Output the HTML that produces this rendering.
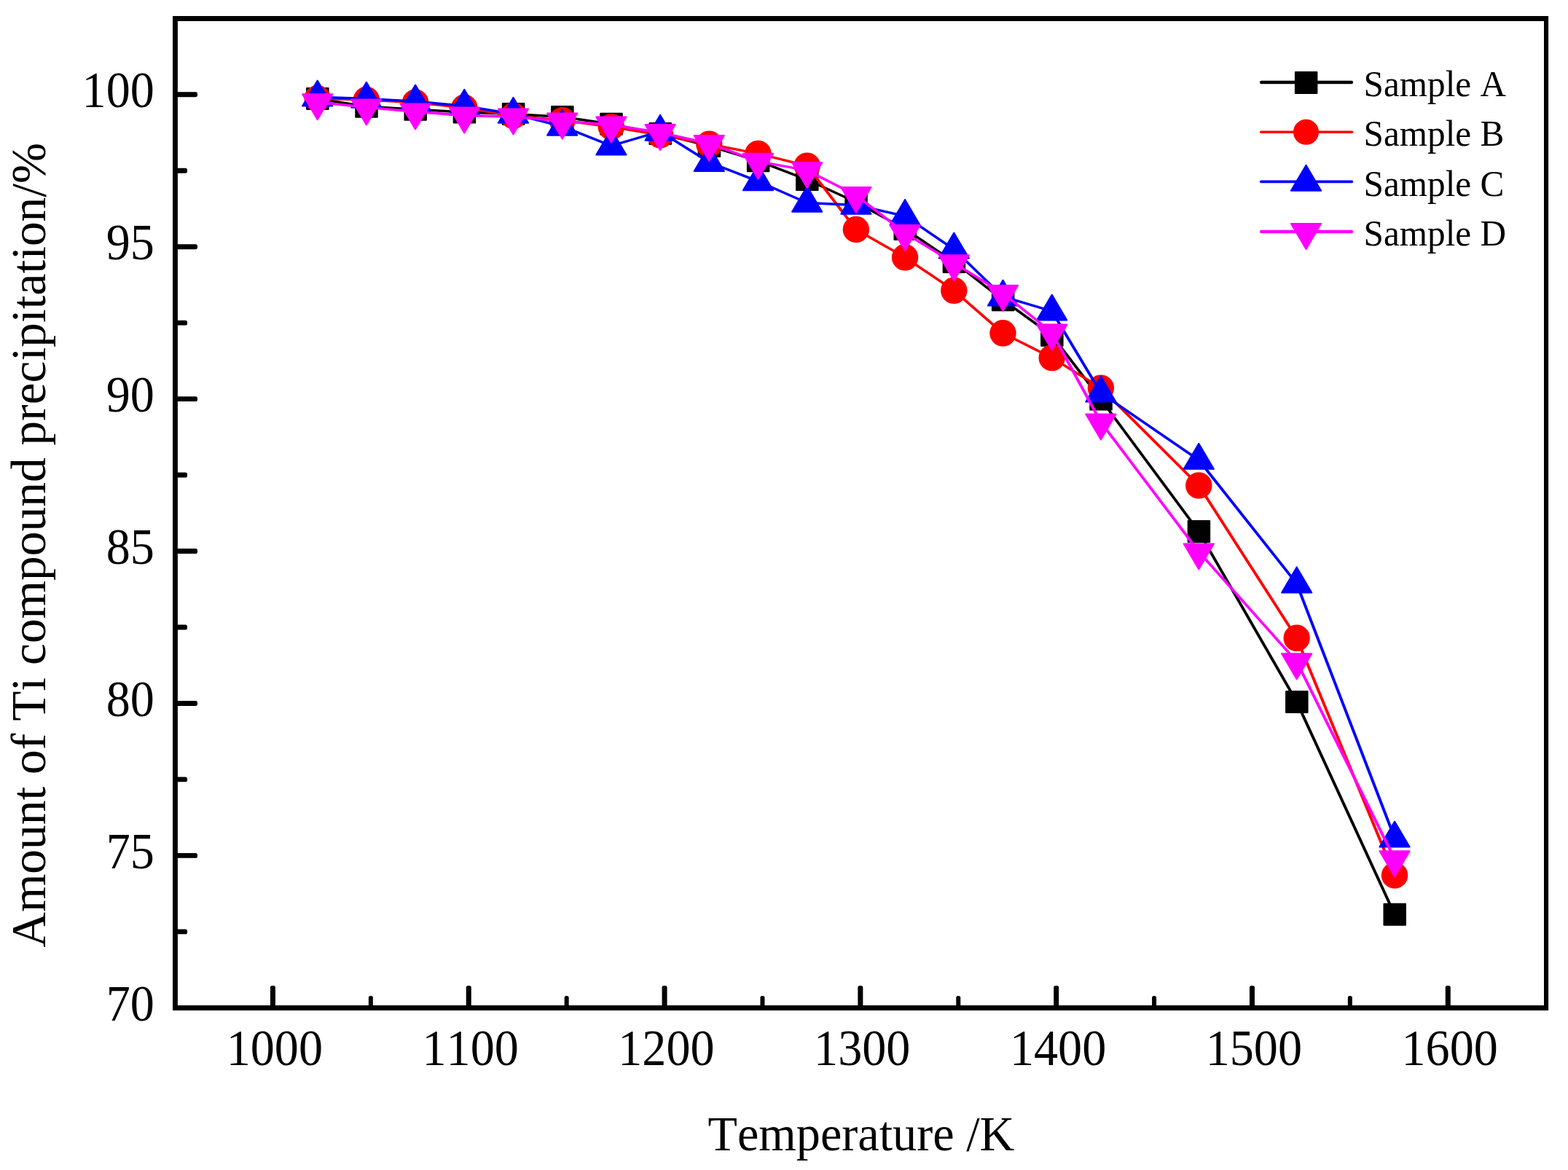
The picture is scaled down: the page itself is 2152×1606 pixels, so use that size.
<!DOCTYPE html>
<html lang="en">
<head>
<meta charset="utf-8">
<title>Amount of Ti compound precipitation vs Temperature</title>
<style>
html,body{margin:0;padding:0;background:#fff;}
body{width:2152px;height:1606px;overflow:hidden;}
svg{display:block;}
text{font-family:"Liberation Serif","Times New Roman",serif;fill:#000;font-kerning:none;font-variant-ligatures:none;}
</style>
</head>
<body>
<svg width="2152" height="1606" viewBox="0 0 2152 1606">
<rect x="0" y="0" width="2152" height="1606" fill="#fff"/>
<g fill="#000000" stroke="#000000" stroke-width="2" stroke-linejoin="round">
<g fill="none" stroke-linecap="round"><line x1="435.67" y1="135.5" x2="502.87" y2="146.2" stroke-width="3.4"/><line x1="502.87" y1="146.2" x2="570.07" y2="150.3" stroke-width="3.4"/><line x1="570.07" y1="150.3" x2="637.27" y2="154" stroke-width="3.4"/><line x1="637.27" y1="154" x2="704.47" y2="156.5" stroke-width="3.4"/><line x1="704.47" y1="156.5" x2="771.67" y2="160.5" stroke-width="3.4"/><line x1="771.67" y1="160.5" x2="838.87" y2="170.3" stroke-width="3.4"/><line x1="838.87" y1="170.3" x2="906.07" y2="183.6" stroke-width="3.4"/><line x1="906.07" y1="183.6" x2="973.27" y2="200.4" stroke-width="3.4"/><line x1="973.27" y1="200.4" x2="1040.47" y2="220.8" stroke-width="3.4"/><line x1="1040.47" y1="220.8" x2="1107.67" y2="246.6" stroke-width="3.4"/><line x1="1107.67" y1="246.6" x2="1174.87" y2="277.5" stroke-width="3.4"/><line x1="1174.87" y1="277.5" x2="1242.07" y2="314.4" stroke-width="3.45"/><line x1="1242.07" y1="314.4" x2="1309.27" y2="359.4" stroke-width="3.51"/><line x1="1309.27" y1="359.4" x2="1376.47" y2="411.8" stroke-width="3.56"/><line x1="1376.47" y1="411.8" x2="1443.67" y2="460.3" stroke-width="3.54"/><line x1="1443.67" y1="460.3" x2="1510.87" y2="548.1" stroke-width="3.74"/><line x1="1510.87" y1="548.1" x2="1645.27" y2="729.6" stroke-width="3.76"/><line x1="1645.27" y1="729.6" x2="1779.67" y2="963.4" stroke-width="3.84"/><line x1="1779.67" y1="963.4" x2="1914.07" y2="1255.3" stroke-width="3.9"/></g>
<rect x="421.07" y="121" width="29.5" height="29"/><rect x="488.27" y="131.7" width="29.5" height="29"/><rect x="555.47" y="135.8" width="29.5" height="29"/><rect x="622.67" y="139.5" width="29.5" height="29"/><rect x="689.87" y="142" width="29.5" height="29"/><rect x="757.07" y="146" width="29.5" height="29"/><rect x="824.27" y="155.8" width="29.5" height="29"/><rect x="891.47" y="169.1" width="29.5" height="29"/><rect x="958.67" y="185.9" width="29.5" height="29"/><rect x="1025.87" y="206.3" width="29.5" height="29"/><rect x="1093.07" y="232.1" width="29.5" height="29"/><rect x="1160.27" y="263" width="29.5" height="29"/><rect x="1227.47" y="299.9" width="29.5" height="29"/><rect x="1294.67" y="344.9" width="29.5" height="29"/><rect x="1361.87" y="397.3" width="29.5" height="29"/><rect x="1429.07" y="445.8" width="29.5" height="29"/><rect x="1496.27" y="533.6" width="29.5" height="29"/><rect x="1630.67" y="715.1" width="29.5" height="29"/><rect x="1765.07" y="948.9" width="29.5" height="29"/><rect x="1899.47" y="1240.8" width="29.5" height="29"/>
</g>
<g fill="#ff0000" stroke="#ff0000" stroke-width="2" stroke-linejoin="round">
<g fill="none" stroke-linecap="round"><line x1="435.67" y1="135.2" x2="502.87" y2="137" stroke-width="3.4"/><line x1="502.87" y1="137" x2="570.07" y2="140.7" stroke-width="3.4"/><line x1="570.07" y1="140.7" x2="637.27" y2="147.8" stroke-width="3.4"/><line x1="637.27" y1="147.8" x2="704.47" y2="159" stroke-width="3.4"/><line x1="704.47" y1="159" x2="771.67" y2="165.3" stroke-width="3.4"/><line x1="771.67" y1="165.3" x2="838.87" y2="174.1" stroke-width="3.4"/><line x1="838.87" y1="174.1" x2="906.07" y2="185.4" stroke-width="3.4"/><line x1="906.07" y1="185.4" x2="973.27" y2="197.8" stroke-width="3.4"/><line x1="973.27" y1="197.8" x2="1040.47" y2="210.9" stroke-width="3.4"/><line x1="1040.47" y1="210.9" x2="1107.67" y2="227.6" stroke-width="3.4"/><line x1="1107.67" y1="227.6" x2="1174.87" y2="315" stroke-width="3.74"/><line x1="1174.87" y1="315" x2="1242.07" y2="353.3" stroke-width="3.46"/><line x1="1242.07" y1="353.3" x2="1309.27" y2="398.8" stroke-width="3.51"/><line x1="1309.27" y1="398.8" x2="1376.47" y2="457.3" stroke-width="3.6"/><line x1="1376.47" y1="457.3" x2="1443.67" y2="491.1" stroke-width="3.42"/><line x1="1443.67" y1="491.1" x2="1510.87" y2="532.6" stroke-width="3.48"/><line x1="1510.87" y1="532.6" x2="1645.27" y2="666.4" stroke-width="3.65"/><line x1="1645.27" y1="666.4" x2="1779.67" y2="875.8" stroke-width="3.8"/><line x1="1779.67" y1="875.8" x2="1914.07" y2="1201.5" stroke-width="3.9"/></g>
<circle cx="435.67" cy="135.2" r="17.2"/><circle cx="502.87" cy="137" r="17.2"/><circle cx="570.07" cy="140.7" r="17.2"/><circle cx="637.27" cy="147.8" r="17.2"/><circle cx="704.47" cy="159" r="17.2"/><circle cx="771.67" cy="165.3" r="17.2"/><circle cx="838.87" cy="174.1" r="17.2"/><circle cx="906.07" cy="185.4" r="17.2"/><circle cx="973.27" cy="197.8" r="17.2"/><circle cx="1040.47" cy="210.9" r="17.2"/><circle cx="1107.67" cy="227.6" r="17.2"/><circle cx="1174.87" cy="315" r="17.2"/><circle cx="1242.07" cy="353.3" r="17.2"/><circle cx="1309.27" cy="398.8" r="17.2"/><circle cx="1376.47" cy="457.3" r="17.2"/><circle cx="1443.67" cy="491.1" r="17.2"/><circle cx="1510.87" cy="532.6" r="17.2"/><circle cx="1645.27" cy="666.4" r="17.2"/><circle cx="1779.67" cy="875.8" r="17.2"/><circle cx="1914.07" cy="1201.5" r="17.2"/>
</g>
<g fill="#0000ff" stroke="#0000ff" stroke-width="2" stroke-linejoin="round">
<g fill="none" stroke-linecap="round"><line x1="435.67" y1="133.2" x2="502.87" y2="135.5" stroke-width="3.4"/><line x1="502.87" y1="135.5" x2="570.07" y2="139.2" stroke-width="3.4"/><line x1="570.07" y1="139.2" x2="637.27" y2="145.5" stroke-width="3.4"/><line x1="637.27" y1="145.5" x2="704.47" y2="156.5" stroke-width="3.4"/><line x1="704.47" y1="156.5" x2="771.67" y2="173.4" stroke-width="3.4"/><line x1="771.67" y1="173.4" x2="838.87" y2="200.2" stroke-width="3.4"/><line x1="838.87" y1="200.2" x2="906.07" y2="180.4" stroke-width="3.4"/><line x1="906.07" y1="180.4" x2="973.27" y2="222.8" stroke-width="3.49"/><line x1="973.27" y1="222.8" x2="1040.47" y2="248.9" stroke-width="3.4"/><line x1="1040.47" y1="248.9" x2="1107.67" y2="278.5" stroke-width="3.4"/><line x1="1107.67" y1="278.5" x2="1174.87" y2="281.5" stroke-width="3.4"/><line x1="1174.87" y1="281.5" x2="1242.07" y2="296.6" stroke-width="3.4"/><line x1="1242.07" y1="296.6" x2="1309.27" y2="342.3" stroke-width="3.52"/><line x1="1309.27" y1="342.3" x2="1376.47" y2="407.2" stroke-width="3.64"/><line x1="1376.47" y1="407.2" x2="1443.67" y2="427.2" stroke-width="3.4"/><line x1="1443.67" y1="427.2" x2="1510.87" y2="539.3" stroke-width="3.83"/><line x1="1510.87" y1="539.3" x2="1645.27" y2="631.5" stroke-width="3.52"/><line x1="1645.27" y1="631.5" x2="1779.67" y2="801.1" stroke-width="3.73"/><line x1="1779.67" y1="801.1" x2="1914.07" y2="1150.2" stroke-width="3.9"/></g>
<path d="M435.67 110.5L456.27 145.5L415.07 145.5Z"/><path d="M502.87 112.8L523.47 147.8L482.27 147.8Z"/><path d="M570.07 116.5L590.67 151.5L549.47 151.5Z"/><path d="M637.27 122.8L657.87 157.8L616.67 157.8Z"/><path d="M704.47 133.8L725.07 168.8L683.87 168.8Z"/><path d="M771.67 150.7L792.27 185.7L751.07 185.7Z"/><path d="M838.87 177.5L859.47 212.5L818.27 212.5Z"/><path d="M906.07 157.7L926.67 192.7L885.47 192.7Z"/><path d="M973.27 200.1L993.87 235.1L952.67 235.1Z"/><path d="M1040.47 226.2L1061.07 261.2L1019.87 261.2Z"/><path d="M1107.67 255.8L1128.27 290.8L1087.07 290.8Z"/><path d="M1174.87 258.8L1195.47 293.8L1154.27 293.8Z"/><path d="M1242.07 273.9L1262.67 308.9L1221.47 308.9Z"/><path d="M1309.27 319.6L1329.87 354.6L1288.67 354.6Z"/><path d="M1376.47 384.5L1397.07 419.5L1355.87 419.5Z"/><path d="M1443.67 404.5L1464.27 439.5L1423.07 439.5Z"/><path d="M1510.87 516.6L1531.47 551.6L1490.27 551.6Z"/><path d="M1645.27 608.8L1665.87 643.8L1624.67 643.8Z"/><path d="M1779.67 778.4L1800.27 813.4L1759.07 813.4Z"/><path d="M1914.07 1127.5L1934.67 1162.5L1893.47 1162.5Z"/>
</g>
<g fill="#ff00ff" stroke="#ff00ff" stroke-width="2" stroke-linejoin="round">
<g fill="none" stroke-linecap="round"><line x1="435.67" y1="140.2" x2="502.87" y2="147.3" stroke-width="3.4"/><line x1="502.87" y1="147.3" x2="570.07" y2="153.3" stroke-width="3.4"/><line x1="570.07" y1="153.3" x2="637.27" y2="158.5" stroke-width="3.4"/><line x1="637.27" y1="158.5" x2="704.47" y2="160.3" stroke-width="3.4"/><line x1="704.47" y1="160.3" x2="771.67" y2="166.3" stroke-width="3.4"/><line x1="771.67" y1="166.3" x2="838.87" y2="171.3" stroke-width="3.4"/><line x1="838.87" y1="171.3" x2="906.07" y2="182" stroke-width="3.4"/><line x1="906.07" y1="182" x2="973.27" y2="196.9" stroke-width="3.4"/><line x1="973.27" y1="196.9" x2="1040.47" y2="221.6" stroke-width="3.4"/><line x1="1040.47" y1="221.6" x2="1107.67" y2="233.9" stroke-width="3.4"/><line x1="1107.67" y1="233.9" x2="1174.87" y2="267.9" stroke-width="3.42"/><line x1="1174.87" y1="267.9" x2="1242.07" y2="320" stroke-width="3.56"/><line x1="1242.07" y1="320" x2="1309.27" y2="361.1" stroke-width="3.48"/><line x1="1309.27" y1="361.1" x2="1376.47" y2="402.6" stroke-width="3.48"/><line x1="1376.47" y1="402.6" x2="1443.67" y2="456.4" stroke-width="3.57"/><line x1="1443.67" y1="456.4" x2="1510.87" y2="579.5" stroke-width="3.85"/><line x1="1510.87" y1="579.5" x2="1645.27" y2="757.3" stroke-width="3.75"/><line x1="1645.27" y1="757.3" x2="1779.67" y2="908.1" stroke-width="3.69"/><line x1="1779.67" y1="908.1" x2="1914.07" y2="1179.1" stroke-width="3.88"/></g>
<path d="M415.07 129.3L456.27 129.3L435.67 164.3Z"/><path d="M482.27 136.4L523.47 136.4L502.87 171.4Z"/><path d="M549.47 142.4L590.67 142.4L570.07 177.4Z"/><path d="M616.67 147.6L657.87 147.6L637.27 182.6Z"/><path d="M683.87 149.4L725.07 149.4L704.47 184.4Z"/><path d="M751.07 155.4L792.27 155.4L771.67 190.4Z"/><path d="M818.27 160.4L859.47 160.4L838.87 195.4Z"/><path d="M885.47 171.1L926.67 171.1L906.07 206.1Z"/><path d="M952.67 186L993.87 186L973.27 221Z"/><path d="M1019.87 210.7L1061.07 210.7L1040.47 245.7Z"/><path d="M1087.07 223L1128.27 223L1107.67 258Z"/><path d="M1154.27 257L1195.47 257L1174.87 292Z"/><path d="M1221.47 309.1L1262.67 309.1L1242.07 344.1Z"/><path d="M1288.67 350.2L1329.87 350.2L1309.27 385.2Z"/><path d="M1355.87 391.7L1397.07 391.7L1376.47 426.7Z"/><path d="M1423.07 445.5L1464.27 445.5L1443.67 480.5Z"/><path d="M1490.27 568.6L1531.47 568.6L1510.87 603.6Z"/><path d="M1624.67 746.4L1665.87 746.4L1645.27 781.4Z"/><path d="M1759.07 897.2L1800.27 897.2L1779.67 932.2Z"/><path d="M1893.47 1168.2L1934.67 1168.2L1914.07 1203.2Z"/>
</g>
<g fill="#000" stroke="none">
<path fill-rule="evenodd" d="M237 22H2125.1V1386.9H237ZM243.9 29V1380.05H2119V29Z"/>
<rect x="370.95" y="1353" width="7" height="30" rx="2.6" ry="2.6"/><rect x="505.85" y="1367" width="6" height="16" rx="2.6" ry="2.6"/><rect x="639.75" y="1353" width="7" height="30" rx="2.6" ry="2.6"/><rect x="774.65" y="1367" width="6" height="16" rx="2.6" ry="2.6"/><rect x="908.55" y="1353" width="7" height="30" rx="2.6" ry="2.6"/><rect x="1043.45" y="1367" width="6" height="16" rx="2.6" ry="2.6"/><rect x="1177.35" y="1353" width="7" height="30" rx="2.6" ry="2.6"/><rect x="1312.25" y="1367" width="6" height="16" rx="2.6" ry="2.6"/><rect x="1446.15" y="1353" width="7" height="30" rx="2.6" ry="2.6"/><rect x="1581.05" y="1367" width="6" height="16" rx="2.6" ry="2.6"/><rect x="1714.95" y="1353" width="7" height="30" rx="2.6" ry="2.6"/><rect x="1849.85" y="1367" width="6" height="16" rx="2.6" ry="2.6"/><rect x="1983.75" y="1353" width="7" height="30" rx="2.6" ry="2.6"/>
<rect x="240" y="1275.39" width="17" height="6.9" rx="2.6" ry="2.6"/><rect x="240" y="1170.93" width="31" height="6.9" rx="2.6" ry="2.6"/><rect x="240" y="1066.47" width="17" height="6.9" rx="2.6" ry="2.6"/><rect x="240" y="962" width="31" height="6.9" rx="2.6" ry="2.6"/><rect x="240" y="857.54" width="17" height="6.9" rx="2.6" ry="2.6"/><rect x="240" y="753.08" width="31" height="6.9" rx="2.6" ry="2.6"/><rect x="240" y="648.62" width="17" height="6.9" rx="2.6" ry="2.6"/><rect x="240" y="544.16" width="31" height="6.9" rx="2.6" ry="2.6"/><rect x="240" y="439.7" width="17" height="6.9" rx="2.6" ry="2.6"/><rect x="240" y="335.23" width="31" height="6.9" rx="2.6" ry="2.6"/><rect x="240" y="230.77" width="17" height="6.9" rx="2.6" ry="2.6"/><rect x="240" y="126.31" width="31" height="6.9" rx="2.6" ry="2.6"/>
</g>
<g font-size="69.8">
<text transform="translate(376.85 1462.2) scale(0.948 1)" text-anchor="middle">1000</text>
<text transform="translate(645.65 1462.2) scale(0.948 1)" text-anchor="middle">1100</text>
<text transform="translate(914.45 1462.2) scale(0.948 1)" text-anchor="middle">1200</text>
<text transform="translate(1183.25 1462.2) scale(0.948 1)" text-anchor="middle">1300</text>
<text transform="translate(1452.05 1462.2) scale(0.948 1)" text-anchor="middle">1400</text>
<text transform="translate(1720.85 1462.2) scale(0.948 1)" text-anchor="middle">1500</text>
<text transform="translate(1989.65 1462.2) scale(0.948 1)" text-anchor="middle">1600</text>
<text transform="translate(211.8 1400.9) scale(0.948 1)" text-anchor="end">70</text>
<text transform="translate(211.8 1191.98) scale(0.948 1)" text-anchor="end">75</text>
<text transform="translate(211.8 983.05) scale(0.948 1)" text-anchor="end">80</text>
<text transform="translate(211.8 774.13) scale(0.948 1)" text-anchor="end">85</text>
<text transform="translate(211.8 565.21) scale(0.948 1)" text-anchor="end">90</text>
<text transform="translate(211.8 356.28) scale(0.948 1)" text-anchor="end">95</text>
<text transform="translate(211.8 147.36) scale(0.948 1)" text-anchor="end">100</text>
</g>
<text font-size="68.5" transform="translate(971.5 1579) scale(0.9665 1)">Temperature /K</text>
<text font-size="68.5" transform="translate(62.1 1300.8) rotate(-90) scale(0.9846 1)">Amount of Ti compound precipitation/%</text>
<g font-size="51">
<g fill="#000000" stroke="#000000" stroke-width="2" stroke-linejoin="round"><line x1="1731.15" y1="113" x2="1854.95" y2="113" stroke="#000000" stroke-width="4.5" stroke-linecap="round"/><rect x="1777.9" y="98.9" width="29.5" height="29"/></g>
<text transform="translate(1871.6 132.1) scale(0.965 1)">Sample A</text>
<g fill="#ff0000" stroke="#ff0000" stroke-width="2" stroke-linejoin="round"><line x1="1730.7" y1="181.3" x2="1855.4" y2="181.3" stroke="#ff0000" stroke-width="3.6" stroke-linecap="round"/><circle cx="1792.5" cy="181.3" r="16.5"/></g>
<text transform="translate(1871.6 200.4) scale(0.965 1)">Sample B</text>
<g fill="#0000ff" stroke="#0000ff" stroke-width="2" stroke-linejoin="round"><line x1="1730.7" y1="249.4" x2="1855.4" y2="249.4" stroke="#0000ff" stroke-width="3.6" stroke-linecap="round"/><path d="M1792.5 226.7L1813.1 261.7L1771.9 261.7Z"/></g>
<text transform="translate(1871.6 268.7) scale(0.965 1)">Sample C</text>
<g fill="#ff00ff" stroke="#ff00ff" stroke-width="2" stroke-linejoin="round"><line x1="1731.15" y1="317.9" x2="1854.95" y2="317.9" stroke="#ff00ff" stroke-width="4.5" stroke-linecap="round"/><path d="M1771.9 307L1813.1 307L1792.5 342Z"/></g>
<text transform="translate(1871.6 337) scale(0.965 1)">Sample D</text>
</g>
</svg>
</body>
</html>
